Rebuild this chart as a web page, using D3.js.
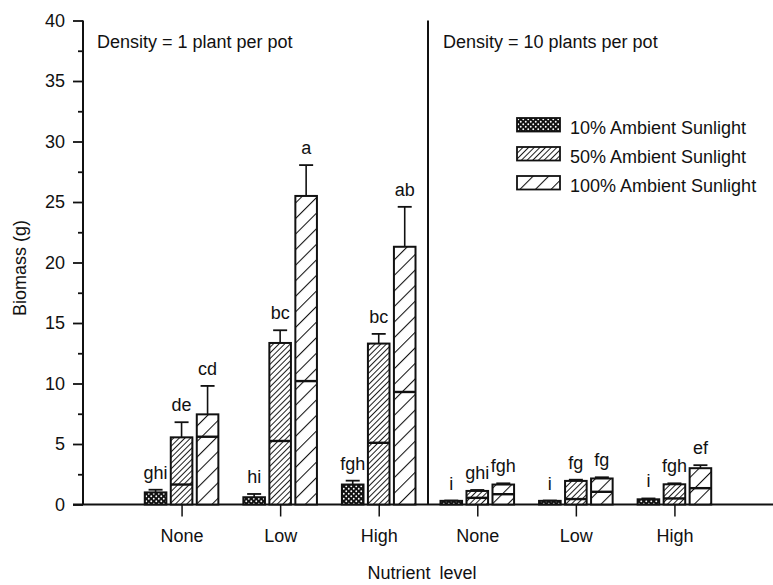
<!DOCTYPE html>
<html lang="en">
<head>
<meta charset="utf-8">
<script type="text/javascript" src="https://d3js.org/d3.v7.min.js"></script>
<style>
  body { margin: 0; background: #fff; }
  text { font-family: "Liberation Sans", Arial, sans-serif; fill: #111; }
</style>
</head>
<body>
<div id="chart"></div>
<script type="text/javascript">
// nutrient levels and panels
let nutrients = ["None", "Low", "High"];
let panels = ["Density = 1 plant per pot", "Density = 10 plants per pot"];
let series = ["10% Ambient Sunlight", "50% Ambient Sunlight", "100% Ambient Sunlight"];
let yTicks = [0, 5, 10, 15, 20, 25, 30, 35, 40];

// biomass (g), one value per nutrient level; panel 1 = 1 plant, panel 2 = 10 plants
let total1_10 = [1.0, 0.6, 1.65];
let total1_50 = [5.55, 13.35, 13.3];
let total1_100 = [7.45, 25.5, 21.3];
let split1_50 = [1.65, 5.25, 5.1];
let split1_100 = [5.6, 10.2, 9.3];
let err1_10 = [1.22, 0.87, 1.97];
let err1_50 = [6.8, 14.4, 14.1];
let err1_100 = [9.8, 28.05, 24.6];
let letters1_10 = ["ghi", "hi", "fgh"];
let letters1_50 = ["de", "bc", "bc"];
let letters1_100 = ["cd", "a", "ab"];

let total10_10 = [0.3, 0.3, 0.43];
let total10_50 = [1.12, 1.95, 1.67];
let total10_100 = [1.65, 2.15, 3.0];
let split10_50 = [0.55, 0.45, 0.5];
let split10_100 = [0.85, 1.05, 1.35];
let err10_10 = [0.33, 0.33, 0.5];
let err10_50 = [1.2, 2.05, 1.75];
let err10_100 = [1.75, 2.25, 3.25];
let letters10_10 = ["i", "i", "i"];
let letters10_50 = ["ghi", "fg", "fgh"];
let letters10_100 = ["fgh", "fg", "ef"];

// flatten into bar records
let bars = [];
function addBars(panel, s, totals, splits, errs, letters) {
  nutrients.forEach((n, i) => {
    bars.push({ pos: panel * 3 + i + 1, series: s, value: totals[i],
                split: splits ? splits[i] : null, err: errs[i], letter: letters[i] });
  });
}
addBars(0, series[0], total1_10, null, err1_10, letters1_10);
addBars(0, series[1], total1_50, split1_50, err1_50, letters1_50);
addBars(0, series[2], total1_100, split1_100, err1_100, letters1_100);
addBars(1, series[0], total10_10, null, err10_10, letters10_10);
addBars(1, series[1], total10_50, split10_50, err10_50, letters10_50);
addBars(1, series[2], total10_100, split10_100, err10_100, letters10_100);

let W = 773, H = 585;
let svg = d3.select("#chart").append("svg").attr("width", W).attr("height", H);

let x = d3.scaleLinear().domain([0, 7]).range([83, 773]);
let y = d3.scaleLinear().domain([0, 40]).range([504.5, 20.5]);
let inner = d3.scaleBand().domain(series).range([-39, 39]).paddingInner(0.17).paddingOuter(0.085);

// fill patterns
let defs = svg.append("defs");
let dots = defs.append("pattern").attr("id", "p0").attr("patternUnits", "userSpaceOnUse")
  .attr("width", 5).attr("height", 5);
dots.append("rect").attr("width", 5).attr("height", 5).attr("fill", "#111");
dots.append("circle").attr("cx", 1.25).attr("cy", 1.25).attr("r", 0.95).attr("fill", "#fff");
dots.append("circle").attr("cx", 3.75).attr("cy", 3.75).attr("r", 0.95).attr("fill", "#fff");

function hatch(id, gap, w) {
  let p = defs.append("pattern").attr("id", id).attr("patternUnits", "userSpaceOnUse")
    .attr("width", gap).attr("height", gap).attr("patternTransform", "rotate(45)");
  p.append("rect").attr("width", gap).attr("height", gap).attr("fill", "#fff");
  p.append("line").attr("x1", 0).attr("y1", 0).attr("x2", 0).attr("y2", gap)
    .attr("stroke", "#111").attr("stroke-width", w);
}
hatch("p1", 4, 1.9);
hatch("p2", 11, 2.1);
let fills = d3.scaleOrdinal().domain(series).range(["url(#p0)", "url(#p1)", "url(#p2)"]);

// axes
let yAxis = svg.append("g").attr("transform", "translate(83,0)")
  .call(d3.axisLeft(y).tickValues(yTicks).tickSize(10).tickPadding(8).tickFormat(d3.format("d")));
svg.append("g").attr("transform", "translate(83,0)")
  .call(d3.axisLeft(y).tickValues(d3.range(2.5, 40, 5)).tickSize(5).tickFormat(""))
  .select(".domain").remove();
yAxis.select(".domain").attr("d", "M0," + y(40) + "V" + y(0));
svg.selectAll(".tick line").attr("stroke", "#111").attr("stroke-width", 1.8);
yAxis.selectAll("text").style("font-size", "18px");
yAxis.select(".domain").attr("stroke", "#111").attr("stroke-width", 2);

let xAxis = svg.append("g").attr("transform", "translate(0," + y(0) + ")")
  .call(d3.axisBottom(x).tickValues([1, 2, 3, 4, 5, 6]).tickSize(12).tickPadding(13)
    .tickFormat((d) => nutrients[(d - 1) % 3]));
xAxis.select(".domain").attr("d", "M73,0H773").attr("stroke", "#111").attr("stroke-width", 2);
xAxis.selectAll(".tick line").attr("stroke", "#111").attr("stroke-width", 1.5);
xAxis.selectAll("text").style("font-size", "18px");

// panel divider
svg.append("line").attr("x1", x(3.5)).attr("x2", x(3.5)).attr("y1", y(40)).attr("y2", y(0))
  .attr("stroke", "#111").attr("stroke-width", 2);

// bars
let g = svg.append("g");
g.selectAll(".err").data(bars).enter().append("line")
  .attr("x1", (d) => x(d.pos) + inner(d.series) + inner.bandwidth() / 2)
  .attr("x2", (d) => x(d.pos) + inner(d.series) + inner.bandwidth() / 2)
  .attr("y1", (d) => y(d.value)).attr("y2", (d) => y(d.err))
  .attr("stroke", "#111").attr("stroke-width", 1.6);
g.selectAll(".cap").data(bars).enter().append("line")
  .attr("x1", (d) => x(d.pos) + inner(d.series) + inner.bandwidth() / 2 - 7)
  .attr("x2", (d) => x(d.pos) + inner(d.series) + inner.bandwidth() / 2 + 7)
  .attr("y1", (d) => y(d.err)).attr("y2", (d) => y(d.err))
  .attr("stroke", "#111").attr("stroke-width", 1.8);
g.selectAll(".bar").data(bars).enter().append("rect")
  .attr("x", (d) => x(d.pos) + inner(d.series))
  .attr("y", (d) => y(d.value))
  .attr("width", inner.bandwidth())
  .attr("height", (d) => y(0) - y(d.value))
  .attr("fill", (d) => fills(d.series))
  .attr("stroke", "#111").attr("stroke-width", 2);
g.selectAll(".split").data(bars.filter((d) => d.split != null)).enter().append("line")
  .attr("x1", (d) => x(d.pos) + inner(d.series))
  .attr("x2", (d) => x(d.pos) + inner(d.series) + inner.bandwidth())
  .attr("y1", (d) => y(d.split)).attr("y2", (d) => y(d.split))
  .attr("stroke", "#111").attr("stroke-width", 2.4);
g.selectAll(".letter").data(bars).enter().append("text")
  .attr("x", (d) => x(d.pos) + inner(d.series) + inner.bandwidth() / 2)
  .attr("y", (d) => y(d.err) - 11)
  .attr("text-anchor", "middle").style("font-size", "18px")
  .text((d) => d.letter);

// panel titles
svg.selectAll(".panel").data(panels).enter().append("text")
  .attr("x", (d, i) => i == 0 ? x(0) + 14 : x(3.5) + 15)
  .attr("y", 47.5).style("font-size", "18px")
  .text((d) => d);

// legend
let leg = svg.append("g").selectAll("g").data(series).enter().append("g")
  .attr("transform", (d, i) => "translate(517," + (118 + i * 29) + ")");
leg.append("rect").attr("width", 43).attr("height", 13.5)
  .attr("fill", (d) => fills(d)).attr("stroke", "#111").attr("stroke-width", 1.8);
leg.append("text").attr("x", 53).attr("y", 16).style("font-size", "18px").text((d) => d);

// axis titles
svg.append("text").attr("x", 422).attr("y", 579).attr("text-anchor", "middle")
  .style("font-size", "18px").style("word-spacing", "4px").text("Nutrient level");
svg.append("text").attr("transform", "translate(26,268) rotate(-90)").attr("text-anchor", "middle")
  .style("font-size", "18px").text("Biomass (g)");
</script>
</body>
</html>
